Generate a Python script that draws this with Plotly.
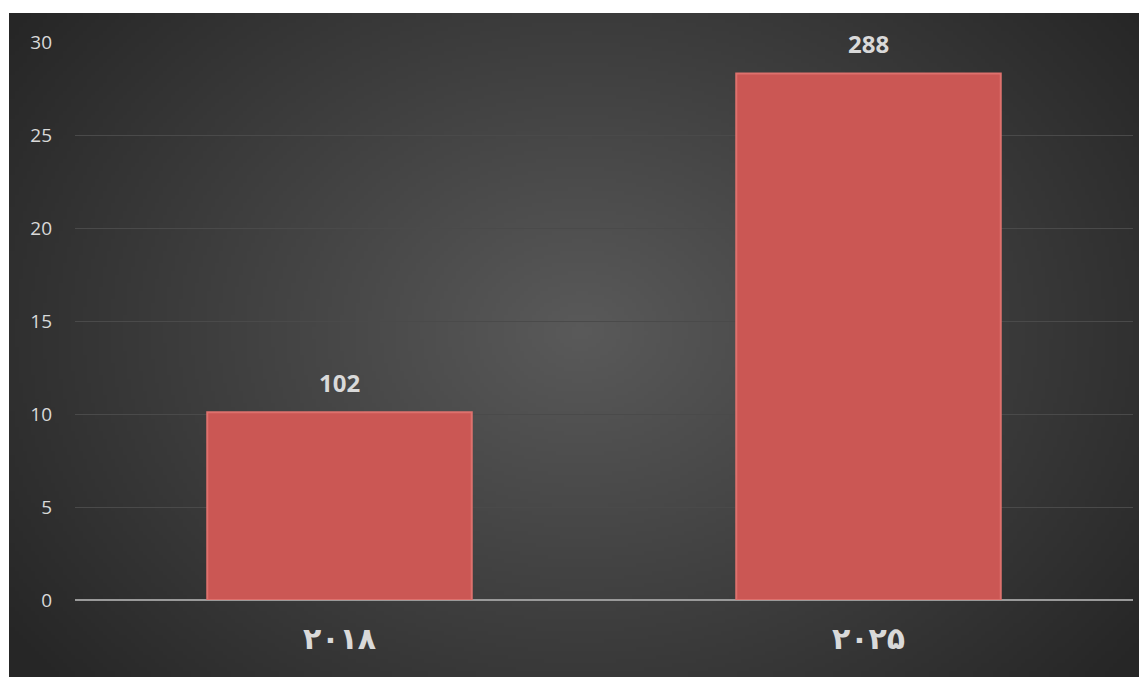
import base64, struct, zlib
import numpy as np
import plotly.graph_objects as go

# ---- data ----
categories = ["۲۰۱۸", "۲۰۲۵"]
values = [10.1, 28.3]
value_labels = ["102", "288"]
y_ticks = [0, 5, 10, 15, 20, 25, 30]

# page has an 8px body margin; figure sized to fit the window
W, H = 1139, 669
L, R, T, B = 67, 14, 34, 77
plot_w, plot_h = W - L - R, H - T - B

# ---- radial gradient background as PNG ----
def make_png(arr):
    h, w, _ = arr.shape
    raw = b"".join(b"\x00" + arr[i].tobytes() for i in range(h))
    def chunk(tag, data):
        c = struct.pack(">I", len(data)) + tag + data
        return c + struct.pack(">I", zlib.crc32(tag + data) & 0xffffffff)
    png = b"\x89PNG\r\n\x1a\n"
    png += chunk(b"IHDR", struct.pack(">IIBBBBB", w, h, 8, 2, 0, 0, 0))
    png += chunk(b"IDAT", zlib.compress(raw, 9))
    png += chunk(b"IEND", b"")
    return "data:image/png;base64," + base64.b64encode(png).decode()

bx0, by0 = 1, 5
bw, bh = W - bx0, H - by0
sc = 4
iw, ih = bw // sc, bh // sc
yy, xx = np.mgrid[0:ih, 0:iw]
cx, cy = (570 - bx0) / sc, (322 - by0) / sc
t = np.sqrt(((xx - cx) / (700 / sc)) ** 2 + ((yy - cy) / (540 / sc)) ** 2)
t = np.clip(t, 0, 1)
v = (0x5a - (0x5a - 0x26) * t).astype(np.uint8)
img = np.stack([v, v, v], axis=-1).astype(np.uint8)
src = make_png(img)

fig = go.Figure()
fig.add_trace(go.Bar(
    x=categories, y=values,
    marker=dict(color="#cb5754", line=dict(color="#de716d", width=2)),
    hoverinfo="skip",
))

for c, v_, lab in zip(categories, values, value_labels):
    fig.add_annotation(
        x=c, y=v_, text=lab, showarrow=False, yshift=30, yanchor="middle",
        font=dict(family="Open Sans", size=24, color="#d9d9d9", weight="bold"),
    )

fig.add_layout_image(dict(
    source=src, xref="paper", yref="paper",
    x=(bx0 - L) / plot_w, y=1 + (T - by0) / plot_h,
    sizex=bw / plot_w, sizey=bh / plot_h,
    xanchor="left", yanchor="top", sizing="stretch", layer="below",
))

fig.update_layout(
    width=W, height=H,
    margin=dict(l=L, r=R, t=T, b=B, pad=0),
    paper_bgcolor="white", plot_bgcolor="rgba(0,0,0,0)",
    bargap=0.5, showlegend=False,
)
fig.update_xaxes(
    showgrid=False, showline=False, zeroline=False,
    tickfont=dict(family="DejaVu Sans", size=30, color="#d9d9d9", weight="bold"),
    ticks="", ticklabelstandoff=18,
)
fig.update_yaxes(
    range=[0, 30], tickvals=y_ticks,
    showgrid=True, gridcolor="#4a4a4a", gridwidth=1,
    zeroline=True, zerolinecolor="#9a9a9a", zerolinewidth=2,
    tickfont=dict(family="Open Sans", size=19, color="#d9d9d9"),
    ticks="", ticklabelstandoff=22,
)

fig.write_html("out.html")
